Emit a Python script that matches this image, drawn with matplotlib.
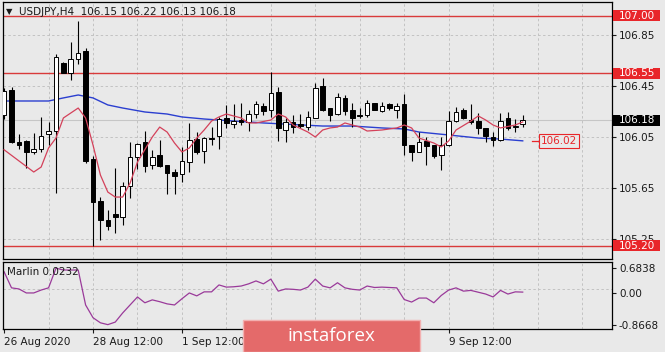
import numpy as np
import matplotlib
matplotlib.use("Agg")
import matplotlib.pyplot as plt
from matplotlib.patches import Rectangle
from matplotlib.transforms import blended_transform_factory

plt.rcParams['font.family'] = ['DejaVu Sans']

# USDJPY H4 candles, bar 0 = 26 Aug 2020 12:00
opens = [106.22, 106.42, 106.01, 106.02, 105.93, 105.96, 106.07, 106.10, 106.63, 106.55,
         106.66, 106.72, 105.88, 105.55, 105.40, 105.45, 105.42, 105.67, 105.89, 106.01,
         105.83, 105.91, 105.83, 105.775, 105.76, 105.855, 106.035, 105.94, 106.045, 106.06,
         106.20, 106.15, 106.18, 106.17, 106.23, 106.29, 106.26, 106.40, 106.105, 106.17,
         106.15, 106.13, 106.20, 106.45, 106.28, 106.23, 106.355, 106.26, 106.22, 106.22,
         106.315, 106.255, 106.31, 106.26, 106.31, 105.99, 105.935, 106.02, 105.985, 105.91,
         105.99, 106.175, 106.26, 106.18, 106.175, 106.12, 106.05, 106.03, 106.20, 106.13,
         106.15]
highs = [106.43, 106.44, 106.07, 106.03, 106.08, 106.21, 106.17, 106.70, 106.64, 106.79,
         106.96, 106.75, 105.90, 105.58, 105.48, 105.81, 105.70, 106.01, 106.00, 106.10,
         105.95, 106.03, 105.83, 105.80, 105.97, 106.16, 106.09, 106.05, 106.13, 106.21,
         106.30, 106.31, 106.32, 106.26, 106.33, 106.32, 106.56, 106.44, 106.20, 106.22,
         106.23, 106.25, 106.47, 106.51, 106.28, 106.395, 106.38, 106.32, 106.28, 106.34,
         106.32, 106.325, 106.315, 106.315, 106.39, 105.99, 106.09, 106.05, 105.985, 106.05,
         106.25, 106.285, 106.28, 106.31, 106.24, 106.12, 106.09, 106.24, 106.245, 106.19,
         106.22]
lows = [106.19, 106.00, 105.96, 105.81, 105.92, 105.93, 105.99, 105.61, 106.55, 106.50,
        106.62, 105.85, 105.20, 105.24, 105.32, 105.30, 105.36, 105.57, 105.80, 105.78,
        105.80, 105.815, 105.60, 105.60, 105.70, 105.78, 105.92, 105.85, 105.99, 105.96,
        106.12, 106.12, 106.145, 106.10, 106.20, 106.22, 106.21, 106.02, 106.01, 106.08,
        106.12, 106.105, 106.195, 106.25, 106.175, 106.22, 106.22, 106.13, 106.20, 106.205,
        106.26, 106.245, 106.26, 106.20, 105.91, 105.86, 105.93, 105.83, 105.885, 105.79,
        105.98, 106.17, 106.19, 106.15, 106.07, 106.01, 105.98, 106.02, 106.105, 106.09,
        106.13]
closes = [106.41, 106.01, 105.99, 105.93, 105.96, 106.06, 106.10, 106.68, 106.55, 106.66,
          106.71, 105.86, 105.54, 105.40, 105.35, 105.42, 105.67, 105.89, 105.995, 105.82,
          105.89, 105.82, 105.77, 105.745, 105.86, 106.03, 105.93, 106.04, 106.035, 106.19,
          106.16, 106.175, 106.17, 106.23, 106.31, 106.25, 106.395, 106.12, 106.17, 106.13,
          106.14, 106.21, 106.43, 106.26, 106.22, 106.36, 106.25, 106.20, 106.215, 106.315,
          106.26, 106.295, 106.28, 106.295, 105.99, 105.935, 106.01, 105.98, 105.90, 105.99,
          106.175, 106.245, 106.20, 106.17, 106.12, 106.06, 106.025, 106.175, 106.12, 106.135,
          106.18]

# moving averages (bar, price)
ma_fast_bar = [0, 4, 5, 6, 7, 8, 10, 11, 12, 13, 14, 15, 16, 17, 18, 20, 21, 22, 23, 24,
               25, 26, 27, 28, 29, 30, 32, 33, 34, 36, 37, 38, 39, 41, 42, 43, 44, 45, 46, 48,
               49, 51, 53, 54, 55, 56, 58, 59, 60, 61, 63, 64, 65, 66, 67, 69, 70]
ma_fast = [105.95, 105.776, 105.815, 105.964, 106.042, 106.199, 106.277, 106.199, 105.987, 105.752,
           105.619, 105.58, 105.58, 105.689, 105.854, 106.05, 106.128, 106.089, 106.003, 105.933,
           105.964, 106.042, 106.105, 106.175, 106.207, 106.23, 106.199, 106.16, 106.16, 106.183,
           106.23, 106.207, 106.144, 106.089, 106.05, 106.105, 106.121, 106.128, 106.16, 106.128,
           106.097, 106.105, 106.121, 106.144, 106.121, 106.042, 106.003, 105.972, 106.019, 106.105,
           106.175, 106.215, 106.183, 106.144, 106.121, 106.144, 106.168]
ma_slow_bar = [0, 6, 8, 10, 12, 14, 16, 19, 22, 24, 27, 29, 35, 43, 47, 51, 54, 56, 60, 64, 67, 70]
ma_slow = [106.332, 106.332, 106.356, 106.379, 106.356, 106.301, 106.277, 106.246, 106.230, 106.207,
           106.191, 106.183, 106.160, 106.136, 106.136, 106.121, 106.113, 106.089, 106.066, 106.042,
           106.034, 106.02]

# Marlin oscillator, one value per bar
marlin = [0.58, 0.14, 0.11, 0.0, 0.0, 0.08, 0.14, 0.68, 0.63, 0.63,
          0.63, -0.33, -0.68, -0.82, -0.87, -0.80, -0.55, -0.33, -0.11, -0.27,
          -0.19, -0.24, -0.30, -0.33, -0.16, 0.0, -0.08, 0.03, 0.03, 0.22,
          0.16, 0.17, 0.19, 0.25, 0.33, 0.25, 0.38, 0.05, 0.11, 0.10,
          0.08, 0.16, 0.38, 0.19, 0.14, 0.28, 0.14, 0.10, 0.08, 0.19,
          0.15, 0.16, 0.15, 0.14, -0.18, -0.25, -0.14, -0.14, -0.27, -0.07,
          0.08, 0.14, 0.05, 0.07, 0.02, -0.03, -0.11, 0.07, -0.03, 0.03,
          0.0232]

levels = [107.00, 106.55, 105.20]
last_price = 106.18
ma_last = 106.02
price_ticks = [105.25, 105.65, 106.05, 106.45, 106.85]
date_bars = [0, 12, 24, 36, 48, 60]
# 3 Sep and 7 Sep labels sit under the watermark in the original
date_labels = ['26 Aug 2020', '28 Aug 12:00', '1 Sep 12:00', '', '', '9 Sep 12:00']
marlin_ticks = [-0.8668, 0.0, 0.6838]
marlin_labels = ['-0.8668', '0.00', '0.6838']

W, H = 665, 352
bg = '#e9e9e9'
red = '#e8262a'
txt = '#1a1a1a'
fig = plt.figure(figsize=(W / 100, H / 100), dpi=100, facecolor=bg)

ax = fig.add_axes([3 / W, 1 - 259 / H, 609 / W, 257 / H], facecolor=bg)
ax2 = fig.add_axes([3 / W, 1 - 329 / H, 609 / W, 67 / H], facecolor=bg)

xlim = (-0.15, 82.05)
grid_bars = np.arange(6, 82, 6)
gstyle = dict(color='#c2c2c2', lw=0.7, linestyle=(0, (2.5, 2.5)))

# ---- price panel
ax.set_xlim(*xlim)
ax.set_ylim(105.095, 107.107)
for g in grid_bars:
    ax.axvline(g, zorder=0, **gstyle)
for t in price_ticks:
    ax.axhline(t, zorder=0, **gstyle)
ax.axhline(last_price, color='#c6c6c6', lw=0.8, zorder=0)
for lv in levels:
    ax.axhline(lv, color='#d93a3a', lw=1.0, zorder=1)

x = np.arange(len(opens))
o = np.array(opens); c = np.array(closes)
bull = c >= o
ax.vlines(x, lows, highs, color='black', lw=0.8, zorder=3)
body_h = np.maximum(np.abs(c - o), 0.004)
ax.bar(x, body_h, bottom=np.minimum(o, c), width=0.62,
       color=np.where(bull, 'white', 'black'), edgecolor='black', lw=0.7, zorder=4)

ax.plot(ma_slow_bar, ma_slow, color='#2b3fd0', lw=1.0, zorder=2)
ax.plot(ma_fast_bar, ma_fast, color='#d4415a', lw=0.9, zorder=5)

ax.yaxis.tick_right()
ax.set_yticks(price_ticks)
ax.set_yticklabels(['%.2f' % t for t in price_ticks])
ax.tick_params(axis='y', direction='out', length=3, pad=2, labelsize=7.5, colors=txt)
ax.set_xticks([])
for s in ax.spines.values():
    s.set_color('black'); s.set_linewidth(0.9)

# right side price labels
tb = blended_transform_factory(fig.transFigure, ax.transData)
for lv, fc in [(107.00, red), (106.55, red), (105.20, red), (last_price, 'black')]:
    ax.add_patch(Rectangle((613 / W, lv - 0.044), 47 / W, 0.088, transform=tb,
                           facecolor=fc, edgecolor='none', clip_on=False, zorder=10))
    ax.text(636.5 / W, lv, '%.2f' % lv, transform=tb, ha='center', va='center',
            color='white', fontsize=7.5, clip_on=False, zorder=11)

# MA value label
ax.plot([71.3, 72.5], [ma_last, ma_last], color=red, lw=0.9, clip_on=False)
ax.text(74.9, ma_last, '%.2f' % ma_last, ha='center', va='center', color=red, fontsize=7.5,
        bbox=dict(boxstyle='square,pad=0.2', fc=bg, ec=red, lw=0.8), zorder=6)

fig.text(6 / W, 1 - 12 / H, '▼', fontsize=6, color=txt, va='center')
fig.text(19 / W, 1 - 12 / H, 'USDJPY,H4  106.15 106.22 106.13 106.18', fontsize=7.5,
         color=txt, va='center')

# ---- Marlin panel
ax2.set_xlim(*xlim)
ax2.set_ylim(-0.99, 0.85)
for g in grid_bars:
    ax2.axvline(g, zorder=0, **gstyle)
ax2.axhline(0.1, zorder=0, **gstyle)
ax2.plot(x, marlin, color='#9a3a9a', lw=0.9)
ax2.yaxis.tick_right()
ax2.set_yticks(marlin_ticks)
ax2.set_yticklabels(marlin_labels)
ax2.tick_params(axis='y', direction='out', length=3, pad=2, labelsize=7.5, colors=txt)
ax2.set_xticks(date_bars)
ax2.set_xticklabels(date_labels, ha='left')
ax2.tick_params(axis='x', direction='out', length=3, pad=3, labelsize=7.5, colors=txt)
for s in ax2.spines.values():
    s.set_color('black'); s.set_linewidth(0.9)
fig.text(7 / W, 1 - 272 / H, 'Marlin 0.0232', fontsize=7.5, color=txt, va='center')

# watermark
fig.add_artist(Rectangle((243 / W, 0), 177 / W, 32 / H, transform=fig.transFigure,
                         facecolor='#e46a6a', edgecolor='#f3b0b0', lw=1.0, zorder=20))
fig.text(331 / W, 1 - 336 / H, 'instaforex', fontsize=13.5, color='white', ha='center',
         va='center', family=['Open Sans', 'DejaVu Sans'], zorder=21)

fig.savefig('out.png', dpi=100, facecolor=bg)
